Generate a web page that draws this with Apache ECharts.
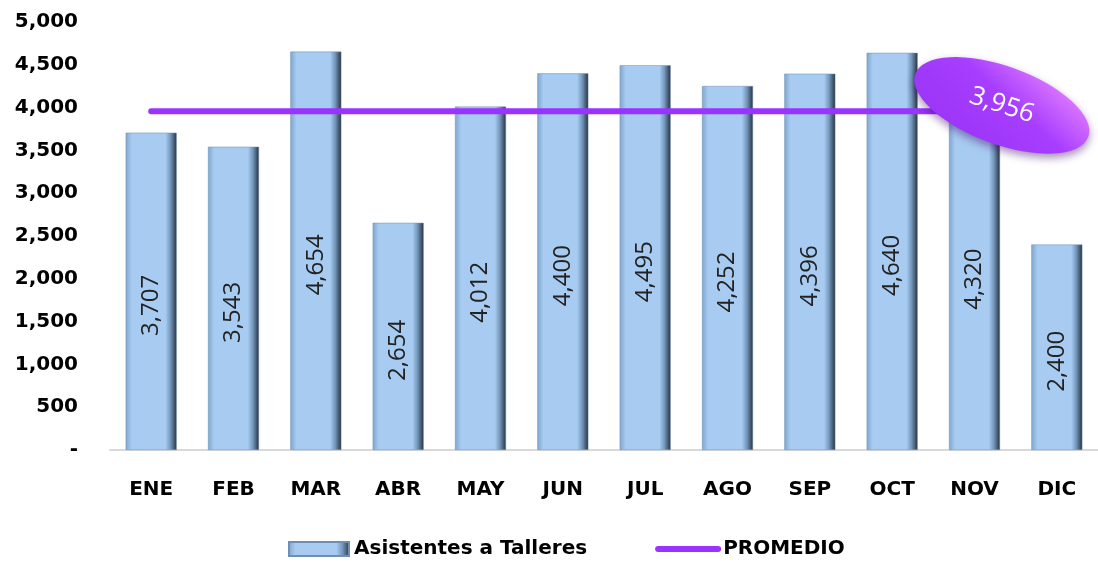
<!DOCTYPE html>
<html>
<head>
<meta charset="utf-8">
<script src="https://cdn.jsdelivr.net/npm/echarts@6/dist/echarts.min.js"></script>
<style>
  html, body { margin: 0; padding: 0; background: #fff; }
  #main { width: 1098px; height: 568px; }
</style>
</head>
<body>
<div id="main"></div>
<script>
// datos
var meses = ['ENE', 'FEB', 'MAR', 'ABR', 'MAY', 'JUN', 'JUL', 'AGO', 'SEP', 'OCT', 'NOV', 'DIC'];
var asistentes = [3707, 3543, 4654, 2654, 4012, 4400, 4495, 4252, 4396, 4640, 4320, 2400];
var promedio = [3956, 3956, 3956, 3956, 3956, 3956, 3956, 3956, 3956, 3956, 3956, 3956];

function miles(v) {
  if (v === 0) return '-';
  return String(v).replace(/\B(?=(\d{3})+(?!\d))/g, ',');
}

var barColor = new echarts.graphic.LinearGradient(0, 0, 1, 0, [
  { offset: 0, color: '#7fa6cf' },
  { offset: 0.12, color: '#a7cbf1' },
  { offset: 0.78, color: '#a7cbf1' },
  { offset: 0.88, color: '#7396bb' },
  { offset: 1, color: '#26313d' }
]);

var chartDom = document.getElementById('main');
var myChart = echarts.init(chartDom);

var option = {
  animation: false,
  textStyle: { fontFamily: '"DejaVu Sans", sans-serif' },
  grid: { left: 110, top: 22, width: 996, bottom: 118 },
  legend: {
    bottom: 4,
    left: 283,
    itemGap: 68,
    itemWidth: 60,
    itemHeight: 14,
    textStyle: { fontSize: 20, fontWeight: 'bold', color: '#000', fontFamily: '"DejaVu Sans", sans-serif' },
    data: [
      { name: 'Asistentes a Talleres', icon: 'rect' },
      { name: 'PROMEDIO', itemStyle: { opacity: 0 }, lineStyle: { width: 6, color: '#9933ff', cap: 'round' } }
    ]
  },
  xAxis: {
    type: 'category',
    data: meses,
    axisLine: { lineStyle: { color: '#d9d9d9', width: 2 } },
    axisTick: { show: false },
    axisLabel: { fontSize: 20, fontWeight: 'bold', color: '#000', margin: 30 }
  },
  yAxis: {
    type: 'value',
    min: 0,
    max: 5000,
    interval: 500,
    splitLine: { show: false },
    axisLine: { show: false },
    axisTick: { show: false },
    axisLabel: {
      fontSize: 20, fontWeight: 'bold', color: '#000', margin: 32,
      formatter: miles
    }
  },
  series: [
    {
      name: 'Asistentes a Talleres',
      type: 'bar',
      data: asistentes,
      barWidth: 51,
      itemStyle: { color: barColor, borderColor: '#6f8fb0', borderWidth: 0.5 },
      label: {
        show: true,
        position: 'inside',
        rotate: 90,
        offset: [-14, 0],
        fontSize: 24,
        fontFamily: '"Open Sans", sans-serif',
        color: '#222',
        formatter: function (p) { return miles(p.value); }
      }
    },
    {
      name: 'PROMEDIO',
      type: 'line',
      data: promedio,
      symbol: 'none',
      z: 5,
      lineStyle: { color: '#9933ff', width: 6, cap: 'round' },
      itemStyle: { color: '#9933ff' },
      markPoint: {
        z: 20,
        data: [{ coord: [meses.length - 1, promedio[promedio.length - 1]], value: promedio[promedio.length - 1] }],
        symbol: 'circle',
        symbolSize: [184, 78],
        symbolRotate: -20,
        symbolOffset: [-55, -6],
        itemStyle: {
          color: new echarts.graphic.LinearGradient(1, 0, 0, 1, [
            { offset: 0, color: '#f08cff' },
            { offset: 0.45, color: '#a63dff' },
            { offset: 1, color: '#9a33f5' }
          ]),
          shadowColor: 'rgba(60,0,100,0.45)',
          shadowBlur: 8,
          shadowOffsetY: 4
        },
        label: {
          show: true,
          color: '#fff',
          fontSize: 26,
          fontFamily: '"Open Sans", sans-serif',
          rotate: -18,
          formatter: function (p) { return miles(p.value); }
        }
      }
    }
  ]
};

myChart.setOption(option);
</script>
</body>
</html>
